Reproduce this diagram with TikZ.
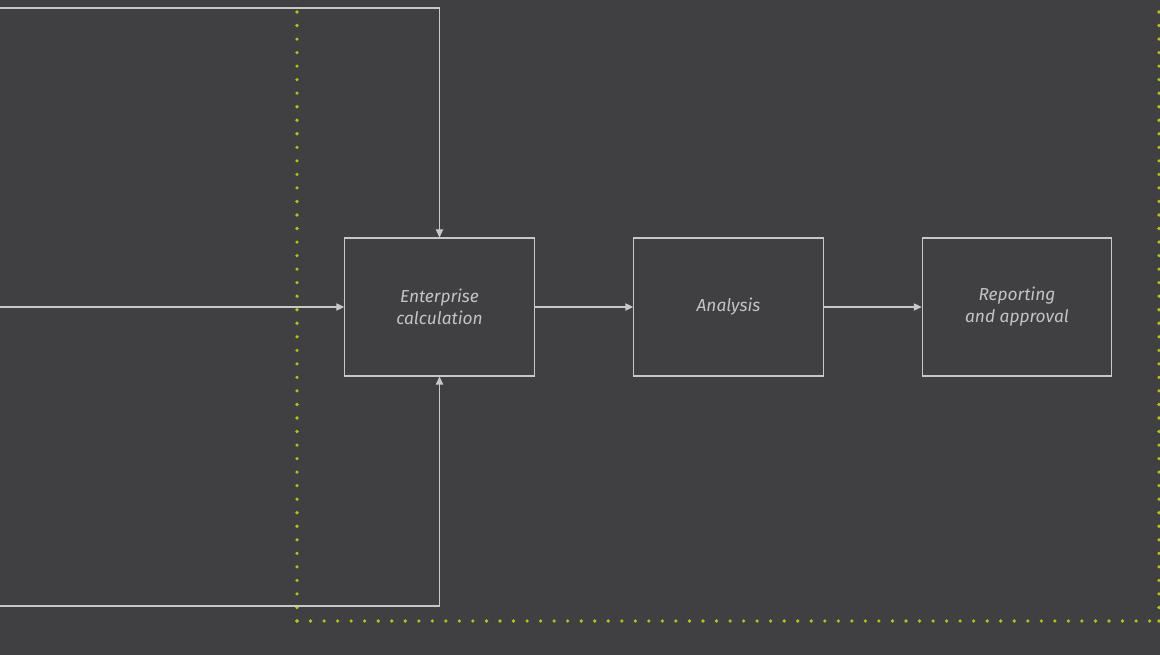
\documentclass[tikz,border=0pt]{standalone}
\usepackage{fontspec}
\setmainfont{Fira Sans}
\usetikzlibrary{arrows.meta}
\definecolor{bg}{HTML}{404042}
\definecolor{ln}{HTML}{C8C8C8}
\definecolor{tx}{HTML}{C4C4C4}
\definecolor{dotc}{HTML}{B4C21E}
\tikzset{
  stagebox/.style={draw=ln, line width=0.85pt, minimum width=142pt, minimum height=103.5pt, inner sep=0pt,
    text=tx, font=\itshape\fontsize{13}{16.5}\selectfont, align=center},
  flow/.style={draw=ln, line width=0.85pt, -{Triangle[length=6pt,width=5.5pt]}},
  dotline/.style={draw=dotc, line width=2.7pt, line cap=round, dash pattern=on 0pt off 10.15pt},
}
\begin{document}
\begin{tikzpicture}[x=0.75pt,y=-0.75pt]
\useasboundingbox (0,0) rectangle (1160,655);
\fill[bg] (0,0) rectangle (1160,655);
% dotted frame
\coordinate (dc1) at (297,621);
\coordinate (dc2) at (1159,621);
\coordinate (dtl) at (297,-5.5);
\coordinate (dtr) at (1159,-5.5);
\draw[dotline] (dc1) -- (dtl);
\draw[dotline] (dc1) -- (dc2);
\draw[dotline] (dc2) -- (dtr);
% boxes
\node[stagebox] (ec) at (439.5,307) {Enterprise\\calculation};
\node[stagebox] (an) at (728.5,307) {Analysis};
\node[stagebox] (rp) at (1017,307) {Reporting\\and approval};
% inputs
\coordinate (tin) at (0,8);
\coordinate (min) at (0,307);
\coordinate (bin) at (0,606);
\draw[flow] (tin) -| (ec.north);
\draw[flow] (min) -- (ec.west);
\draw[flow] (bin) -| (ec.south);
\draw[flow] (ec) -- (an);
\draw[flow] (an) -- (rp);
\end{tikzpicture}
\end{document}
